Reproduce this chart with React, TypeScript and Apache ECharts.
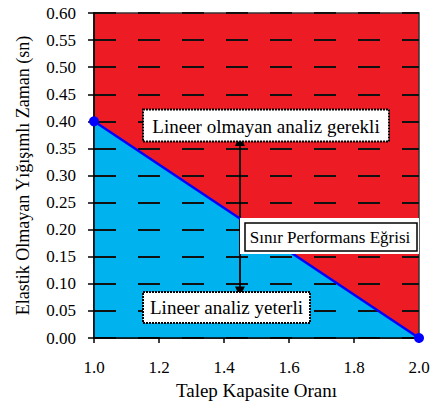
import React, { useEffect, useRef } from "react";
import * as echarts from "echarts";

// Boundary curve (Sınır Performans Eğrisi)
const boundaryX = [1.0, 2.0];
const boundaryY = [0.4, 0.0];

// Axis ranges / tick steps
const xRange = [1.0, 2.0];
const xStep = 0.2;
const yRange = [0.0, 0.6];
const yStep = 0.05;

// Arrow annotation (data coordinates)
const arrowX = 1.449;
const arrowYTop = 0.3635;
const arrowYBottom = 0.0857;

const xTitle = "Talep Kapasite Oranı";
const yTitle = "Elastik Olmayan Yığışımlı Zaman (sn)";
const labelNonlinear = "Lineer olmayan analiz gerekli";
const labelBoundary = "Sınır Performans Eğrisi";
const labelLinear = "Lineer analiz yeterli";

const FONT = "Liberation Serif, DejaVu Serif, serif";

export default function App() {
  const ref = useRef<HTMLDivElement>(null);
  useEffect(() => {
    if (!ref.current) return;
    const chart = echarts.init(ref.current, null, { renderer: "svg" });
    const boundary = boundaryX.map((x, i) => [x, boundaryY[i]]);
    chart.setOption({
      animation: false,
      backgroundColor: "#ffffff",
      textStyle: { fontFamily: FONT },
      grid: {
        left: 94,
        right: 13,
        top: 13,
        bottom: 65,
        outerBoundsMode: "none",
        containLabel: false,
        show: true,
        backgroundColor: "#ED1C24",
        borderColor: "#333333",
        borderWidth: 1.5,
      },
      xAxis: {
        type: "value",
        min: xRange[0],
        max: xRange[1],
        interval: xStep,
        z: 3,
        name: xTitle,
        nameLocation: "middle",
        nameGap: 42,
        nameTextStyle: { fontFamily: FONT, fontSize: 19, color: "#000" },
        axisLine: { show: true, onZero: false, lineStyle: { color: "#000", width: 1.5 } },
        axisTick: { show: true, inside: false, length: 5, lineStyle: { color: "#000", width: 1.5 } },
        axisLabel: {
          margin: 21,
          fontFamily: FONT,
          fontSize: 17,
          color: "#000",
          formatter: (v: number) => v.toFixed(1),
        },
        splitLine: { show: false },
      },
      yAxis: {
        type: "value",
        min: yRange[0],
        max: yRange[1],
        interval: yStep,
        z: 3,
        name: yTitle,
        nameLocation: "middle",
        nameGap: 62,
        nameRotate: 90,
        nameTextStyle: { fontFamily: FONT, fontSize: 18, color: "#000" },
        axisLine: { show: true, onZero: false, lineStyle: { color: "#000", width: 1.5 } },
        axisTick: { show: true, inside: false, length: 6, lineStyle: { color: "#000", width: 1.5 } },
        axisLabel: {
          margin: 18,
          fontFamily: FONT,
          fontSize: 17,
          color: "#000",
          formatter: (v: number) => v.toFixed(2),
        },
        splitLine: {
          show: true,
          lineStyle: { color: "#111", width: 1.8, type: [22, 22] },
        },
      },
      series: [
        {
          type: "line",
          data: boundary,
          z: 1,
          showSymbol: false,
          symbol: "none",
          lineStyle: { width: 0 },
          areaStyle: { color: "#00B2EE", opacity: 1 },
          silent: true,
        },
        {
          type: "line",
          data: boundary,
          z: 5,
          symbol: "circle",
          symbolSize: 10,
          itemStyle: { color: "#0000FF" },
          lineStyle: { color: "#0000FF", width: 2.5 },
          silent: true,
          markLine: {
            silent: true,
            symbol: ["triangle", "triangle"],
            symbolSize: [10, 10],
            label: { show: false },
            lineStyle: { color: "#000", width: 1.8, type: "solid" },
            data: [
              [
                { coord: [arrowX, arrowYTop] },
                { coord: [arrowX, arrowYBottom] },
              ],
            ],
          },
        },
      ],
      graphic: [
        {
          type: "rect",
          z: 100,
          shape: { x: 143, y: 109.5, width: 246, height: 32 },
          style: { fill: "#fff", stroke: "#000", lineWidth: 2, lineDash: [2, 1] },
        },
        {
          type: "text",
          z: 101,
          x: 266,
          y: 126,
          style: {
            text: labelNonlinear,
            font: "19px " + FONT,
            fill: "#000",
            align: "center",
            verticalAlign: "middle",
          },
        },
        {
          type: "rect",
          z: 100,
          shape: { x: 240, y: 218, width: 179, height: 36 },
          style: { fill: "#fff", stroke: null },
        },
        {
          type: "rect",
          z: 101,
          shape: { x: 245, y: 223, width: 172, height: 28 },
          style: { fill: "#fff", stroke: "#000", lineWidth: 1.5 },
        },
        {
          type: "text",
          z: 102,
          x: 330,
          y: 237.5,
          style: {
            text: labelBoundary,
            font: "17px " + FONT,
            fill: "#000",
            align: "center",
            verticalAlign: "middle",
          },
        },
        {
          type: "rect",
          z: 100,
          shape: { x: 143, y: 292, width: 167, height: 31 },
          style: { fill: "#fff", stroke: "#000", lineWidth: 2, lineDash: [2, 1] },
        },
        {
          type: "text",
          z: 101,
          x: 226.5,
          y: 307.5,
          style: {
            text: labelLinear,
            font: "19px " + FONT,
            fill: "#000",
            align: "center",
            verticalAlign: "middle",
          },
        },
      ],
    });
    return () => chart.dispose();
  }, []);
  return (
    <div
      ref={ref}
      style={{ position: "fixed", left: 0, top: 0, width: 432, height: 403, background: "#fff" }}
    />
  );
}
